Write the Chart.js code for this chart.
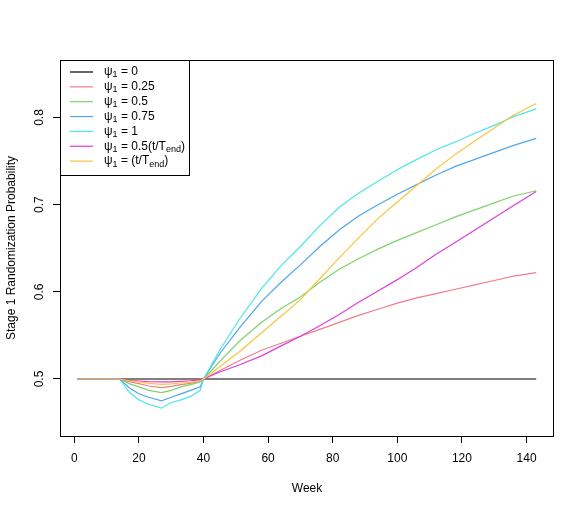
<!DOCTYPE html>
<html><head><meta charset="utf-8">
<script src="https://cdn.jsdelivr.net/npm/chart.js@4/dist/chart.umd.min.js"></script>
<style>html,body{margin:0;padding:0;background:#fff}#wrap{width:585px;height:512px;position:relative}</style>
</head><body><div id="wrap"><canvas id="c" width="585" height="512"></canvas></div>
<script>
const weeks = [1,14,17,20,23,27,30,33,36,39,40,45,51,58,64,70,76,82,88,94,100,106,112,118,124,130,136,143];
const psi0     = [0.5,0.5,0.5,0.5,0.5,0.5,0.5,0.5,0.5,0.5,0.5,0.5,0.5,0.5,0.5,0.5,0.5,0.5,0.5,0.5,0.5,0.5,0.5,0.5,0.5,0.5,0.5,0.5];
const psi025   = [0.5,0.5,0.497,0.4947,0.492,0.490,0.4915,0.4935,0.495,0.4973,0.5,0.5095,0.521,0.533,0.541,0.549,0.557,0.565,0.573,0.580,0.587,0.593,0.598,0.603,0.608,0.613,0.618,0.622];
const psi05    = [0.5,0.5,0.4947,0.491,0.487,0.4843,0.487,0.491,0.4935,0.4966,0.5,0.520,0.543,0.565,0.581,0.594,0.611,0.626,0.638,0.649,0.659,0.668,0.677,0.686,0.694,0.702,0.710,0.716];
const psi075   = [0.5,0.5,0.490,0.483,0.479,0.475,0.479,0.483,0.487,0.491,0.5,0.529,0.558,0.589,0.611,0.631,0.652,0.671,0.687,0.700,0.712,0.723,0.734,0.744,0.752,0.760,0.768,0.776];
const psi1     = [0.5,0.5,0.485,0.476,0.471,0.4665,0.473,0.476,0.480,0.487,0.5,0.533,0.568,0.604,0.630,0.652,0.676,0.697,0.713,0.727,0.740,0.752,0.763,0.772,0.782,0.791,0.801,0.810];
const psiHalfT = [0.5,0.5,0.4985,0.4977,0.497,0.4966,0.4968,0.4973,0.498,0.499,0.5,0.508,0.516,0.5265,0.538,0.549,0.561,0.574,0.588,0.601,0.614,0.628,0.643,0.657,0.671,0.685,0.699,0.715];
const psiT     = [0.5,0.5,0.498,0.4966,0.495,0.4939,0.4945,0.4954,0.4965,0.498,0.5,0.514,0.531,0.553,0.572,0.591,0.615,0.639,0.662,0.684,0.703,0.722,0.741,0.758,0.773,0.788,0.803,0.816];
const seriesLabels = ["ψ{1} = 0","ψ{1} = 0.25","ψ{1} = 0.5","ψ{1} = 0.75","ψ{1} = 1","ψ{1} = 0.5(t/T{end})","ψ{1} = (t/T{end})"];
const xTicks = [0,20,40,60,80,100,120,140];
const yTicks = [0.5,0.6,0.7,0.8];
const xTitle = "Week";
const yTitle = "Stage 1 Randomization Probability";

const colors = ['#000000','#EE7E8E','#7ED36A','#4FA6EE','#4CE6E8','#DE3FD6','#F8C53E'];
const seriesData = [psi0,psi025,psi05,psi075,psi1,psiHalfT,psiT];
const FONT = '"Liberation Sans", Arial, Helvetica, sans-serif';

const datasets = seriesData.map((arr,i)=>({
  label: seriesLabels[i].replace(/[{}]/g,''),
  data: weeks.map((w,j)=>({x:w,y:arr[j]})),
  borderColor: colors[i], backgroundColor: colors[i],
  borderWidth: 1.2, pointRadius: 0, tension: 0, fill: false,
  order: seriesData.length - i
}));

function drawRich(ctx, text, x, y){
  const parts = text.split(/(\{[^}]*\})/).filter(s=>s.length);
  let cx = x;
  parts.forEach(p=>{
    if (p[0]==='{'){
      const s = p.slice(1,-1);
      ctx.font = '9px ' + FONT;
      ctx.fillText(s, cx, y+3);
      cx += ctx.measureText(s).width;
    } else {
      ctx.font = '12px ' + FONT;
      ctx.fillText(p, cx, y);
      cx += ctx.measureText(p).width;
    }
  });
}

const rPlugin = {
  id:'rstyle',
  afterDraw(chart){
    const {ctx, chartArea:a, scales} = chart;
    ctx.save();
    ctx.strokeStyle = '#000'; ctx.lineWidth = 1;
    ctx.strokeRect(Math.round(a.left)+0.5, Math.round(a.top)+0.5, Math.round(a.right-a.left)-1, Math.round(a.bottom-a.top));
    ctx.fillStyle = '#000';
    ctx.font = '12px ' + FONT;
    ctx.textAlign = 'center'; ctx.textBaseline = 'alphabetic';
    yTicks.forEach(v=>{
      const py = scales.y.getPixelForValue(v);
      ctx.save(); ctx.translate(43, py); ctx.rotate(-Math.PI/2);
      ctx.fillText(v.toFixed(1), 0, 0); ctx.restore();
    });
    const lx = Math.round(a.left)+0.5, ly = Math.round(a.top)+0.5;
    ctx.fillStyle = '#fff';
    ctx.fillRect(lx, ly, 129, 115);
    ctx.strokeRect(lx, ly, 129, 115);
    ctx.textAlign = 'left'; ctx.textBaseline = 'middle';
    seriesLabels.forEach((lab,i)=>{
      const y = 72 + 14.85*i;
      ctx.strokeStyle = colors[i]; ctx.lineWidth = 1.2;
      ctx.beginPath(); ctx.moveTo(70, y); ctx.lineTo(93, y); ctx.stroke();
      ctx.fillStyle = '#000';
      drawRich(ctx, lab, 104, y);
    });
    ctx.restore();
  }
};

new Chart(document.getElementById('c'), {
  type:'line',
  data:{datasets},
  options:{
    responsive:false, animation:false,
    layout:{padding:{top:60,right:31,left:0,bottom:0}},
    plugins:{legend:{display:false}, tooltip:{enabled:false}},
    scales:{
      x:{type:'linear', min:-4.43, max:148.5,
        afterBuildTicks:s=>{s.ticks = xTicks.map(v=>({value:v}));},
        afterFit:s=>{s.height = 76;},
        border:{display:false},
        grid:{drawOnChartArea:false, drawTicks:true, tickLength:7, color:'#000', lineWidth:1},
        ticks:{color:'#000', font:{family:FONT,size:12}, padding:8, maxRotation:0, autoSkip:false},
        title:{display:true, text:xTitle, color:'#000', font:{family:FONT,size:12}, padding:{top:0,bottom:16}}
      },
      y:{type:'linear', min:0.4346, max:0.866,
        afterBuildTicks:s=>{s.ticks = yTicks.map(v=>({value:v}));},
        afterFit:s=>{s.width = 60;},
        border:{display:false},
        grid:{drawOnChartArea:false, drawTicks:true, tickLength:7, color:'#000', lineWidth:1},
        ticks:{display:false},
        title:{display:true, text:yTitle, color:'#000', font:{family:FONT,size:12}, padding:{top:4,bottom:0}}
      }
    }
  },
  plugins:[rPlugin]
});
</script></body></html>
